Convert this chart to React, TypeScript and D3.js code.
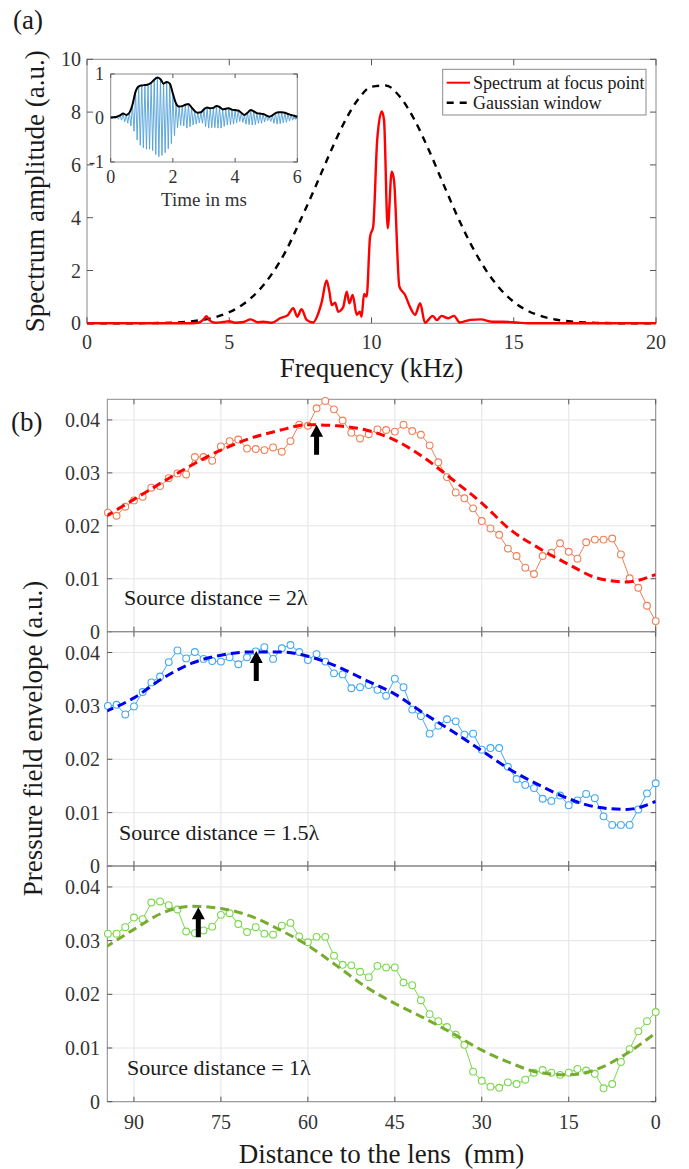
import { useEffect, useRef } from 'react';
import * as d3 from 'd3';

const FONT = '"Liberation Serif", "Times New Roman", serif';

// ---------- panel (a) ----------
const freqTicks = [0, 5, 10, 15, 20];
const ampTicks = [0, 2, 4, 6, 8, 10];

// Gaussian window (black dashed)
const gaussFreq = [0, 0.5, 1, 1.5, 2, 2.5, 3, 3.5, 4, 4.5, 5, 5.5, 6, 6.5, 7, 7.5, 8, 8.5, 9, 9.5, 10,
  10.5, 11, 11.5, 12, 12.5, 13, 13.5, 14, 14.5, 15, 15.5, 16, 16.5, 17, 17.5, 18, 18.5, 19, 19.5, 20];
const gaussAmp = [0, 0, 0, 0, 0.005, 0.012, 0.027, 0.058, 0.12, 0.23, 0.42, 0.73, 1.2, 1.87, 2.76, 3.9, 5.1, 6.35, 7.52, 8.44, 8.96,
  9.01, 8.58, 7.73, 6.6, 5.34, 4.1, 2.98, 2.05, 1.33, 0.81, 0.47, 0.26, 0.136, 0.067, 0.031, 0.014, 0.006, 0.002, 0.001, 0];

// Spectrum at focus point (red)
const specFreq = [0, 3.5, 3.9, 4.1, 4.2, 4.3, 4.5, 4.8, 5.0, 5.2, 5.5, 5.75, 6.0, 6.2, 6.5, 6.8, 7.05, 7.25, 7.39, 7.54,
  7.72, 7.95, 8.13, 8.25, 8.42, 8.52, 8.6, 8.72, 8.83, 9.0, 9.13, 9.22, 9.34, 9.48, 9.59, 9.65, 9.74, 9.83, 9.95, 10.06,
  10.2, 10.36, 10.44, 10.57, 10.71, 10.79, 10.98, 11.18, 11.35, 11.53, 11.71, 11.88, 12.15, 12.3, 12.46, 12.7, 12.9, 13.1, 13.47, 13.85,
  14.24, 14.6, 15.1, 15.5, 20];
const specAmp = [0, 0, 0.02, 0.15, 0.27, 0.12, 0.02, 0.05, 0.08, 0.02, 0.05, 0.15, 0.04, 0.06, 0.02, 0.2, 0.3, 0.57, 0.25, 0.53,
  0.13, 0.03, 0.38, 0.8, 1.62, 1.2, 0.69, 0.78, 0.44, 0.6, 1.2, 0.76, 1.07, 0.32, 0.44, 0.25, 1.11, 1.01, 3.28, 3.66,
  6.94, 8.02, 7.7, 3.6, 5.74, 5.43, 1.39, 1.07, 0.63, 0.32, 0.76, 0.02, 0.28, 0.12, 0.28, 0.19, 0.28, 0.03, 0.13, 0.15,
  0.06, 0.06, 0.03, 0, 0];

// inset: time signal (ms), upper / lower peaks
const insetTicksX = [0, 2, 4, 6];
const insetTicksY = [-1, 0, 1];
const insetTime = [0, 0.1, 0.2, 0.3, 0.4, 0.5, 0.6, 0.7, 0.8, 0.9, 1.0, 1.1, 1.2, 1.3, 1.4, 1.5, 1.6, 1.7, 1.8, 1.9,
  2.0, 2.1, 2.2, 2.3, 2.4, 2.5, 2.6, 2.7, 2.8, 2.9, 3.0, 3.1, 3.2, 3.3, 3.4, 3.5, 3.6, 3.7, 3.8, 3.9,
  4.0, 4.1, 4.2, 4.3, 4.4, 4.5, 4.6, 4.7, 4.8, 4.9, 5.0, 5.1, 5.2, 5.3, 5.4, 5.5, 5.6, 5.7, 5.8, 5.9, 6.0];
const insetUpper = [0.01, 0.02, 0.03, 0.06, 0.1, 0.07, 0.12, 0.3, 0.6, 0.72, 0.74, 0.75, 0.76, 0.8, 0.87, 0.92, 0.88, 0.78, 0.82, 0.78,
  0.55, 0.33, 0.26, 0.27, 0.3, 0.32, 0.24, 0.16, 0.12, 0.13, 0.2, 0.24, 0.22, 0.23, 0.27, 0.25, 0.2, 0.21, 0.22, 0.19,
  0.18, 0.17, 0.12, 0.07, 0.12, 0.18, 0.15, 0.11, 0.1, 0.09, 0.06, 0.03, 0.06, 0.11, 0.13, 0.13, 0.12, 0.09, 0.07, 0.05, 0.03];
const insetLower = [-0.01, -0.02, -0.03, -0.05, -0.09, -0.12, -0.18, -0.3, -0.5, -0.62, -0.68, -0.71, -0.71, -0.74, -0.83, -0.88, -0.85, -0.79, -0.7, -0.58,
  -0.4, -0.22, -0.17, -0.18, -0.23, -0.2, -0.16, -0.14, -0.11, -0.12, -0.2, -0.23, -0.22, -0.22, -0.23, -0.23, -0.19, -0.16, -0.15, -0.14,
  -0.11, -0.08, -0.1, -0.14, -0.15, -0.16, -0.15, -0.12, -0.12, -0.09, -0.06, -0.08, -0.12, -0.14, -0.13, -0.11, -0.1, -0.07, -0.05, -0.03, -0.02];

// ---------- panel (b) ----------
const distTicks = [90, 75, 60, 45, 30, 15, 0];
const envTicks = [0, 0.01, 0.02, 0.03, 0.04];

const distances = [94.5, 93, 91.5, 90, 88.5, 87, 85.5, 84, 82.5, 81, 79.5, 78, 76.5, 75, 73.5, 72, 70.5, 69, 67.5, 66,
  64.5, 63, 61.5, 60, 58.5, 57, 55.5, 54, 52.5, 51, 49.5, 48, 46.5, 45, 43.5, 42, 40.5, 39, 37.5, 36,
  34.5, 33, 31.5, 30, 28.5, 27, 25.5, 24, 22.5, 21, 19.5, 18, 16.5, 15, 13.5, 12, 10.5, 9, 7.5, 6,
  4.5, 3, 1.5, 0];

const env2Lambda = [0.0225, 0.0219, 0.0236, 0.0248, 0.0255, 0.0272, 0.0275, 0.029, 0.0299, 0.0297, 0.033, 0.033, 0.0323, 0.035, 0.036, 0.0363, 0.0346, 0.0345, 0.0343, 0.0348,
  0.034, 0.036, 0.0391, 0.0389, 0.0422, 0.0436, 0.042, 0.0399, 0.0376, 0.0365, 0.0373, 0.0382, 0.0381, 0.0378, 0.0391, 0.0379, 0.0372, 0.0352, 0.032, 0.0292,
  0.0263, 0.0252, 0.0233, 0.0209, 0.0195, 0.0183, 0.0157, 0.0143, 0.0121, 0.0109, 0.0143, 0.0149, 0.0167, 0.0151, 0.0138, 0.0169, 0.0174, 0.0174, 0.0176, 0.0146,
  0.0101, 0.0083, 0.0049, 0.002];

const env15Lambda = [0.03, 0.0302, 0.0284, 0.0299, 0.0326, 0.0344, 0.0355, 0.0382, 0.0404, 0.0389, 0.0401, 0.0388, 0.0384, 0.0383, 0.0391, 0.0378, 0.0391, 0.0402, 0.041, 0.0388,
  0.0408, 0.0414, 0.0401, 0.0386, 0.0397, 0.0383, 0.0361, 0.0359, 0.0333, 0.0335, 0.0339, 0.033, 0.0319, 0.0351, 0.0335, 0.0293, 0.0281, 0.0248, 0.0263, 0.0275,
  0.0271, 0.0246, 0.0248, 0.0218, 0.0221, 0.0221, 0.0186, 0.0163, 0.0152, 0.0146, 0.0126, 0.0122, 0.0132, 0.0114, 0.0123, 0.0135, 0.0127, 0.0093, 0.0077, 0.0077,
  0.0077, 0.0106, 0.0136, 0.0155];

const env1Lambda = [0.0313, 0.0313, 0.0325, 0.0343, 0.034, 0.0371, 0.0373, 0.0366, 0.0358, 0.0317, 0.0314, 0.0319, 0.0326, 0.0348, 0.0351, 0.0331, 0.0316, 0.0325, 0.0313, 0.0311,
  0.0328, 0.0333, 0.0308, 0.0297, 0.0307, 0.0307, 0.0272, 0.0255, 0.0254, 0.0242, 0.0232, 0.0253, 0.025, 0.025, 0.0222, 0.0217, 0.0189, 0.0163, 0.015, 0.0139,
  0.0125, 0.0106, 0.0056, 0.0039, 0.0028, 0.0026, 0.0036, 0.0033, 0.0041, 0.0054, 0.0059, 0.0054, 0.005, 0.0054, 0.0061, 0.0058, 0.0052, 0.0025, 0.0033, 0.0074,
  0.0098, 0.0131, 0.015, 0.0167];

// dashed fits
const fitDist = [95, 90, 85, 80, 75, 70, 65, 60, 55, 50, 45, 40, 35, 30, 25, 20, 15, 10, 5, 0];
const fit2Lambda = [0.0217, 0.025, 0.0283, 0.0315, 0.0343, 0.0365, 0.038, 0.0391, 0.0389, 0.0381, 0.0362, 0.0329, 0.0287, 0.0243, 0.0192, 0.0157, 0.0127, 0.0101, 0.0094, 0.0108];
const fit15Lambda = [0.0289, 0.0315, 0.0352, 0.038, 0.0395, 0.0401, 0.0401, 0.0393, 0.0374, 0.0348, 0.0322, 0.0286, 0.0252, 0.0216, 0.018, 0.0151, 0.0126, 0.011, 0.0106, 0.0121];
const fit1Lambda = [0.0287, 0.0321, 0.0352, 0.0364, 0.036, 0.0346, 0.0321, 0.0291, 0.0253, 0.0214, 0.0183, 0.0156, 0.0127, 0.0096, 0.0072, 0.0054, 0.005, 0.0061, 0.009, 0.0128];

// focus arrows (distance, value at tip)
const arrowDist = [58.5, 68.9, 78.9];
const arrowValue = [0.0391, 0.0403, 0.0362];

const sourceLabels = ['Source distance = 2\u03bb', 'Source distance = 1.5\u03bb', 'Source distance = 1\u03bb'];

export default function App() {
  const svgRef = useRef<SVGSVGElement>(null);

  useEffect(() => {
    const svg = d3.select(svgRef.current);
    svg.selectAll('*').remove();

    const boxColor = '#8a8a8a';
    const tickColor = '#555';
    const labelColor = '#333';

    const text = (g: any, x: number, y: number, s: string, size: number, anchor = 'start', color = '#1a1a1a') =>
      g.append('text').attr('x', x).attr('y', y).attr('font-family', FONT).attr('font-size', size)
        .attr('text-anchor', anchor).attr('fill', color).text(s);

    // ================= panel (a) =================
    const A = { left: 87, right: 656, top: 59.3, bottom: 323.3 };
    const fx = d3.scaleLinear().domain([0, 20]).range([A.left, A.right]);
    const fy = d3.scaleLinear().domain([0, 10]).range([A.bottom, A.top]);
    const ga = svg.append('g');

    text(ga, 13, 29, '(a)', 27);

    ga.append('rect').attr('x', A.left).attr('y', A.top).attr('width', A.right - A.left).attr('height', A.bottom - A.top)
      .attr('fill', 'none').attr('stroke', boxColor).attr('stroke-width', 1);

    freqTicks.forEach(t => {
      ga.append('line').attr('x1', fx(t)).attr('x2', fx(t)).attr('y1', A.bottom).attr('y2', A.bottom - 6).attr('stroke', tickColor);
      ga.append('line').attr('x1', fx(t)).attr('x2', fx(t)).attr('y1', A.top).attr('y2', A.top + 6).attr('stroke', tickColor);
      text(ga, fx(t), 348.5, String(t), 20, 'middle', labelColor);
    });
    ampTicks.forEach(t => {
      ga.append('line').attr('x1', A.left).attr('x2', A.left + 6).attr('y1', fy(t)).attr('y2', fy(t)).attr('stroke', tickColor);
      ga.append('line').attr('x1', A.right).attr('x2', A.right - 6).attr('y1', fy(t)).attr('y2', fy(t)).attr('stroke', tickColor);
      text(ga, 81, fy(t) + 7, String(t), 20, 'end', labelColor);
    });

    text(ga, (A.left + A.right) / 2, 377, 'Frequency (kHz)', 27, 'middle');
    text(ga, 0, 0, 'Spectrum amplitude (a.u.)', 27, 'middle')
      .attr('transform', `translate(44,${(A.top + A.bottom) / 2}) rotate(-90)`);

    const gaussLine = d3.line<number>().x((d, i) => fx(gaussFreq[i])).y(d => fy(d)).curve(d3.curveMonotoneX);
    ga.append('path').attr('d', gaussLine(gaussAmp)).attr('fill', 'none').attr('stroke', '#000')
      .attr('stroke-width', 2.4).attr('stroke-dasharray', '7,6');

    const specLine = d3.line<number>().x((d, i) => fx(specFreq[i])).y(d => fy(d)).curve(d3.curveMonotoneX);
    ga.append('path').attr('d', specLine(specAmp)).attr('fill', 'none').attr('stroke', '#ff0000')
      .attr('stroke-width', 2.4).attr('stroke-linejoin', 'round');

    // legend
    const lg = ga.append('g');
    lg.append('rect').attr('x', 442.7).attr('y', 69.3).attr('width', 203.3).attr('height', 45.7)
      .attr('fill', '#fff').attr('stroke', boxColor);
    lg.append('line').attr('x1', 446.7).attr('x2', 470).attr('y1', 82.7).attr('y2', 82.7).attr('stroke', '#ff0000').attr('stroke-width', 2);
    lg.append('line').attr('x1', 446.7).attr('x2', 470).attr('y1', 102.7).attr('y2', 102.7).attr('stroke', '#000')
      .attr('stroke-width', 2.4).attr('stroke-dasharray', '7,6');
    text(lg, 473, 88.5, 'Spectrum at focus point', 18);
    text(lg, 473, 108.5, 'Gaussian window', 18);

    // inset
    const I = { left: 110.7, right: 297.3, top: 74, bottom: 162 };
    const tx = d3.scaleLinear().domain([0, 6]).range([I.left, I.right]);
    const ty = d3.scaleLinear().domain([-1, 1]).range([I.bottom, I.top]);
    const gi = ga.append('g');
    gi.append('rect').attr('x', I.left).attr('y', I.top).attr('width', I.right - I.left).attr('height', I.bottom - I.top)
      .attr('fill', '#fff').attr('stroke', boxColor);
    insetTicksX.forEach(t => {
      gi.append('line').attr('x1', tx(t)).attr('x2', tx(t)).attr('y1', I.bottom).attr('y2', I.bottom - 4).attr('stroke', tickColor);
      gi.append('line').attr('x1', tx(t)).attr('x2', tx(t)).attr('y1', I.top).attr('y2', I.top + 4).attr('stroke', tickColor);
      text(gi, tx(t), 183, String(t), 18, 'middle', labelColor);
    });
    insetTicksY.forEach(t => {
      gi.append('line').attr('x1', I.left).attr('x2', I.left + 4).attr('y1', ty(t)).attr('y2', ty(t)).attr('stroke', tickColor);
      gi.append('line').attr('x1', I.right).attr('x2', I.right - 4).attr('y1', ty(t)).attr('y2', ty(t)).attr('stroke', tickColor);
      text(gi, 104, ty(t) + 6, String(t), 18, 'end', labelColor);
    });
    text(gi, (I.left + I.right) / 2, 206, 'Time in ms', 19, 'middle', labelColor);

    const wavePts: [number, number][] = [];
    insetTime.forEach((t, i) => {
      wavePts.push([t, insetUpper[i]]);
      if (i < insetTime.length - 1) wavePts.push([t + 0.05, insetLower[i]]);
    });
    const waveLine = d3.line<[number, number]>().x(d => tx(d[0])).y(d => ty(d[1]));
    gi.append('path').attr('d', waveLine(wavePts)).attr('fill', 'none').attr('stroke', '#4f9fd8').attr('stroke-width', 0.9);
    const envLine = d3.line<number>().x((d, i) => tx(insetTime[i])).y(d => ty(d)).curve(d3.curveMonotoneX);
    gi.append('path').attr('d', envLine(insetUpper)).attr('fill', 'none').attr('stroke', '#000').attr('stroke-width', 2);

    // ================= panel (b) =================
    const B = { left: 107.3, right: 655.7 };
    const dx = d3.scaleLinear().domain([94.6, 0]).range([B.left, B.right]);
    const gb = svg.append('g');
    text(gb, 11, 431, '(b)', 27);

    const subplots = [
      { top: 399.3, bottom: 631.7, values: env2Lambda, fit: fit2Lambda, marker: '#f07f55', fitColor: '#ff0000', labelX: 124 },
      { top: 631.7, bottom: 866, values: env15Lambda, fit: fit15Lambda, marker: '#3fa9f5', fitColor: '#0000ee', labelX: 119 },
      { top: 866, bottom: 1101.7, values: env1Lambda, fit: fit1Lambda, marker: '#79d84a', fitColor: '#77ac30', labelX: 127 },
    ];

    subplots.forEach((p, k) => {
      const vy = d3.scaleLinear().domain([0, 0.0439]).range([p.bottom, p.top]);
      const g = gb.append('g');
      const clipId = `clip-b${k}`;
      g.append('clipPath').attr('id', clipId).append('rect')
        .attr('x', B.left).attr('y', p.top).attr('width', B.right - B.left).attr('height', p.bottom - p.top);

      // grid
      distTicks.forEach(t => {
        g.append('line').attr('x1', dx(t)).attr('x2', dx(t)).attr('y1', p.top).attr('y2', p.bottom).attr('stroke', '#e4e4e4');
      });
      envTicks.forEach(t => {
        g.append('line').attr('x1', B.left).attr('x2', B.right).attr('y1', vy(t)).attr('y2', vy(t)).attr('stroke', '#e4e4e4');
      });

      g.append('rect').attr('x', B.left).attr('y', p.top).attr('width', B.right - B.left).attr('height', p.bottom - p.top)
        .attr('fill', 'none').attr('stroke', boxColor);

      distTicks.forEach(t => {
        g.append('line').attr('x1', dx(t)).attr('x2', dx(t)).attr('y1', p.bottom).attr('y2', p.bottom - 5).attr('stroke', tickColor);
        g.append('line').attr('x1', dx(t)).attr('x2', dx(t)).attr('y1', p.top).attr('y2', p.top + 5).attr('stroke', tickColor);
      });
      envTicks.forEach(t => {
        g.append('line').attr('x1', B.left).attr('x2', B.left + 5).attr('y1', vy(t)).attr('y2', vy(t)).attr('stroke', tickColor);
        g.append('line').attr('x1', B.right).attr('x2', B.right - 5).attr('y1', vy(t)).attr('y2', vy(t)).attr('stroke', tickColor);
        text(g, 100, vy(t) + 7, t === 0 ? '0' : t.toFixed(2), 20, 'end', labelColor);
      });

      const dataLine = d3.line<number>().x((d, i) => dx(distances[i])).y(d => vy(d));
      g.append('path').attr('d', dataLine(p.values)).attr('fill', 'none').attr('stroke', p.marker).attr('stroke-width', 1);
      g.selectAll('circle.pt').data(p.values).enter().append('circle')
        .attr('cx', (d, i) => dx(distances[i])).attr('cy', d => vy(d)).attr('r', 3.4)
        .attr('fill', '#fff').attr('stroke', p.marker).attr('stroke-width', 1.1);

      const fitLine = d3.line<number>().x((d, i) => dx(fitDist[i])).y(d => vy(d)).curve(d3.curveMonotoneX);
      g.append('path').attr('d', fitLine(p.fit)).attr('fill', 'none').attr('stroke', p.fitColor)
        .attr('stroke-width', 3).attr('stroke-dasharray', '9,5').attr('clip-path', `url(#${clipId})`);

      // arrow
      const ax = dx(arrowDist[k]);
      const ay = vy(arrowValue[k]);
      g.append('path')
        .attr('d', `M${ax},${ay} L${ax + 6.5},${ay + 12} L${ax + 2.5},${ay + 12} L${ax + 2.5},${ay + 30} L${ax - 2.5},${ay + 30} L${ax - 2.5},${ay + 12} L${ax - 6.5},${ay + 12} Z`)
        .attr('fill', '#000');

      text(g, p.labelX, p.bottom - 26.5, sourceLabels[k], 22);
    });

    const last = subplots[subplots.length - 1];
    distTicks.forEach(t => {
      text(gb, dx(t), 1128.5, String(t), 20, 'middle', labelColor);
    });
    text(gb, (B.left + B.right) / 2, 1163, 'Distance to the lens  (mm)', 27, 'middle').attr('xml:space', 'preserve').style('white-space', 'pre');
    text(gb, 0, 0, 'Pressure field envelope (a.u.)', 27, 'middle')
      .attr('transform', `translate(42,${(subplots[0].top + last.bottom) / 2 - 12}) rotate(-90)`);
  }, []);

  return (
    <svg ref={svgRef} width={689} height={1169}
      style={{ position: 'absolute', left: 0, top: 0, background: '#fff' }} />
  );
}
